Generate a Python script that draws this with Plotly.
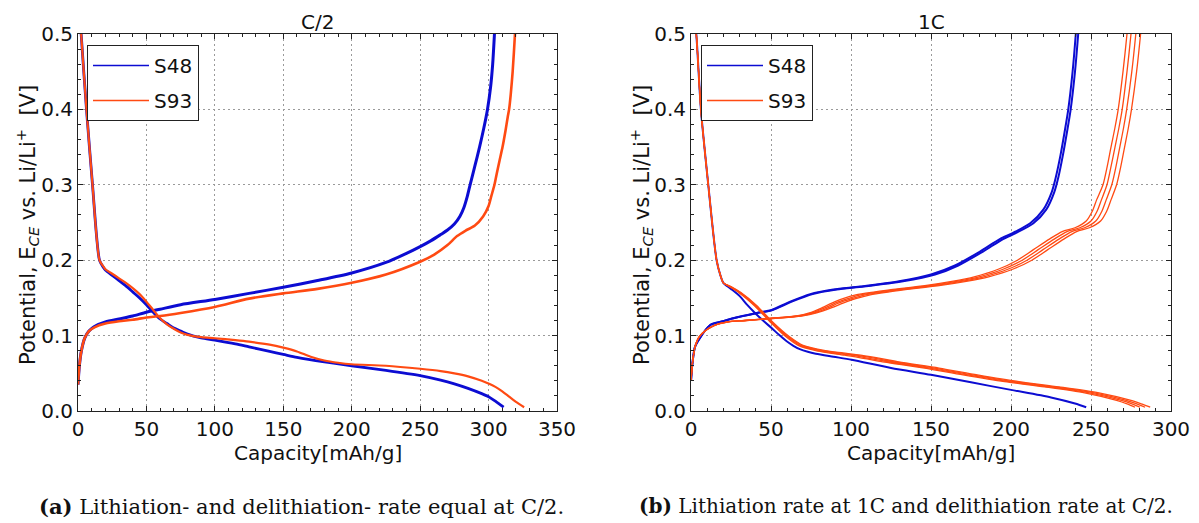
import plotly.graph_objects as go

# ---------------- Panel (a): C/2 ----------------
a_s48_lith_cap = [0, 2.3, 6.2, 10.6, 15.7, 18, 20, 25, 30, 35, 40, 45, 50, 55, 60, 65, 70, 75, 80, 90,
                  100, 115, 125, 140, 150, 160, 180, 200, 225, 250, 265, 275, 285, 295, 300, 305, 311]
a_s48_lith_pot = [0.57, 0.5, 0.4, 0.3, 0.2, 0.192, 0.187, 0.18, 0.173, 0.166, 0.158, 0.15, 0.141, 0.131, 0.122,
                  0.116, 0.11, 0.106, 0.102, 0.097, 0.094, 0.089, 0.085, 0.079, 0.075, 0.071, 0.065, 0.06, 0.054,
                  0.047, 0.041, 0.036, 0.03, 0.023, 0.019, 0.013, 0.005]

a_s93_lith_cap = [0, 2.3, 6.2, 10.6, 15.7, 18, 20, 25, 30, 35, 40, 45, 50, 55, 60, 65, 70, 75, 80, 90,
                  100, 115, 125, 140, 150, 160, 170, 180, 190, 200, 225, 250, 265, 275, 285, 295, 305, 310,
                  315, 320, 326]
a_s93_lith_pot = [0.57, 0.5, 0.4, 0.3, 0.2, 0.193, 0.188, 0.182, 0.176, 0.17, 0.163, 0.155, 0.145, 0.134, 0.123,
                  0.115, 0.109, 0.104, 0.101, 0.098, 0.0965, 0.094, 0.092, 0.088, 0.084, 0.079, 0.072, 0.067,
                  0.064, 0.062, 0.06, 0.056, 0.053, 0.05, 0.046, 0.04, 0.032, 0.026, 0.019, 0.012, 0.005]

a_s48_delith_cap = [0, 1, 2.5, 5, 8, 12, 20, 30, 40, 50, 60, 75, 100, 125, 150, 175, 200, 225, 240, 250,
                    258, 265, 270, 275, 279, 282, 284.5, 286.5, 290, 293.4, 296.5, 299.2, 301.5, 303,
                    304.3, 305.2]
a_s48_delith_pot = [0.035, 0.06, 0.08, 0.097, 0.106, 0.112, 0.118, 0.122, 0.126, 0.131, 0.135, 0.141, 0.148,
                    0.156, 0.164, 0.173, 0.183, 0.197, 0.209, 0.218, 0.226, 0.234, 0.24, 0.248, 0.258, 0.27,
                    0.285, 0.3, 0.325, 0.35, 0.375, 0.4, 0.43, 0.46, 0.5, 0.53]

a_s93_delith_cap = [0, 1, 2.5, 5, 8, 12, 20, 30, 40, 50, 60, 75, 100, 125, 150, 175, 200, 225, 250, 260,
                    270, 277, 283, 290, 296, 300, 302, 304.3, 306, 308, 310.2, 312.4, 314, 315, 316.2, 317.6,
                    319.3, 320.2]
a_s93_delith_pot = [0.035, 0.06, 0.08, 0.097, 0.106, 0.111, 0.116, 0.119, 0.121, 0.124, 0.126, 0.13, 0.138,
                    0.149, 0.156, 0.162, 0.17, 0.181, 0.198, 0.207, 0.22, 0.232, 0.239, 0.246, 0.258, 0.272,
                    0.285, 0.3, 0.315, 0.332, 0.35, 0.372, 0.39, 0.4, 0.42, 0.45, 0.5, 0.53]

# ---------------- Panel (b): 1C ----------------
b_s48_lith_cap = [0, 3.3, 6.2, 10.8, 16, 18.5, 20.2, 25, 30.6, 35, 40, 45, 50.4, 55, 59.8, 64, 68, 73, 78, 89,
                  100.4, 125, 150, 175, 200, 225, 240, 247]
b_s48_lith_pot = [0.57, 0.5, 0.4, 0.3, 0.2, 0.179, 0.17, 0.162, 0.152, 0.141, 0.13, 0.12, 0.11, 0.101, 0.0925,
                  0.0865, 0.082, 0.0785, 0.076, 0.072, 0.068, 0.057, 0.048, 0.038, 0.028, 0.018, 0.01, 0.005]

b_s93_lith_pot = [0.57, 0.5, 0.4, 0.3, 0.2, 0.179, 0.17, 0.165, 0.157, 0.14, 0.117, 0.099, 0.087, 0.08,
                  0.077, 0.074, 0.069, 0.065, 0.057, 0.048, 0.039, 0.032, 0.024, 0.014, 0.009, 0.005]
b_s93_lith_cap_c1 = [0, 3.3, 6.2, 10.8, 16, 18.5, 20.2, 24, 30, 39.5, 50, 59, 67, 78, 86, 96, 110, 121,
                     146, 170, 196, 221, 246, 266, 273, 277.5]
b_s93_lith_cap_c2 = [0, 3.3, 6.2, 10.8, 16, 18.5, 20.2, 24.3, 30.4, 40, 50.5, 59.8, 68, 80, 89, 100, 113,
                     124, 149, 173, 199, 224, 249, 269, 276, 280.6]
b_s93_lith_cap_c3 = [0, 3.3, 6.2, 10.8, 16, 18.5, 20.2, 24.6, 30.8, 40.5, 51, 60.5, 69, 82, 92, 103, 117,
                     127, 152, 176, 202, 227, 252, 272, 279, 283.8]
b_s93_lith_cap_c4 = [0, 3.3, 6.2, 10.8, 16, 18.5, 20.2, 25, 31.2, 41, 51.5, 61.2, 70, 84, 95, 106, 120,
                     130, 155, 179, 205, 230, 255, 275, 282, 287]

b_s48_delith_pot = [0.04, 0.065, 0.085, 0.097, 0.114, 0.119, 0.123, 0.13, 0.134, 0.145, 0.155, 0.161, 0.165,
                    0.172, 0.181, 0.193, 0.2115, 0.228, 0.236, 0.249, 0.267, 0.29, 0.31, 0.34, 0.37, 0.4,
                    0.45, 0.5, 0.53]
b_s48_delith_cap_c1 = [0, 1, 2.5, 5.6, 12, 20, 26.4, 41, 50.4, 62, 74.5, 89, 105.6, 130, 150, 165, 180.6,
                       193, 201, 212, 220.2, 225.4, 228, 231, 233.5, 235.8, 238.5, 240.5, 241.5]
b_s48_delith_cap_c2 = [0, 1, 2.5, 5.6, 12, 20, 26.6, 41.5, 51, 63, 76, 91, 108, 132.5, 152.5, 167, 182.5,
                       195, 203, 214, 222, 227, 229.6, 232.5, 235, 237.3, 240, 242, 243]

b_s93_delith_pot = [0.04, 0.065, 0.085, 0.098, 0.108, 0.114, 0.118, 0.12, 0.123, 0.126, 0.13, 0.137, 0.143,
                    0.149, 0.154, 0.158, 0.161, 0.166, 0.172, 0.178, 0.188, 0.2, 0.214, 0.228, 0.238, 0.243,
                    0.252, 0.265, 0.28, 0.3, 0.325, 0.35, 0.375, 0.4, 0.45, 0.5, 0.53]
b_s93_delith_cap_c1 = [0, 1, 2.5, 5, 10, 15, 22, 33, 50, 66, 74, 82, 88, 95, 103, 115, 125, 145, 163, 177,
                       192, 204, 214, 224, 232, 240, 247, 250.8, 253.5, 257.5, 260.2, 262.5, 264.9, 267, 270,
                       272.5, 273.8]
b_s93_delith_cap_c2 = [0, 1, 2.5, 5, 10, 15, 22, 33.5, 51, 67, 75.5, 84, 90, 98, 106, 118, 128, 148, 166,
                       180, 195, 207, 217, 227, 235, 243, 250, 253.8, 256.5, 260, 262.6, 265, 267.4, 269.5,
                       272.5, 275, 276.3]
b_s93_delith_cap_c3 = [0, 1, 2.5, 5, 10, 15, 22.5, 34, 52, 68, 77, 86, 92, 100.5, 109, 121, 131, 151, 169,
                       183, 198, 210, 220, 230, 238, 246, 253, 256.8, 259.5, 263, 265.7, 268, 270.3, 272.3,
                       275.5, 278, 279.3]
b_s93_delith_cap_c4 = [0, 1, 2.5, 5, 10, 15, 23, 35, 53, 69, 78.5, 88, 95, 103, 112, 124, 134, 154, 172,
                       186, 201, 213, 223, 233, 241, 249, 256, 259.8, 262.5, 266, 268.7, 271, 273.3, 275.3,
                       278.5, 281, 282.3]

panel_titles = ["C/2", "1C"]
x_title = "Capacity[mAh/g]"
y_title = "Potential, E<sub><i>CE</i></sub> vs. Li/Li<sup>+</sup>\u00a0 [V]"
captions = ["<b>(a)</b> Lithiation- and delithiation- rate equal at C/2.",
            "<b>(b)</b> Lithiation rate at 1C and delithiation rate at C/2."]
caption_sizes = [21, 20]
series_names = ["S48", "S93"]

BLUE = "#0c0cd2"
ORANGE = "#ff4a12"
SMOOTH = 0.75

fig = go.Figure()


def add(x, y, color, width, xa, ya):
    fig.add_trace(go.Scatter(
        x=x, y=y, mode="lines",
        line=dict(color=color, width=width, shape="spline", smoothing=SMOOTH),
        xaxis=xa, yaxis=ya, showlegend=False, hoverinfo="skip"))


def add_legend_entry(name, color, xa, ya, legend):
    fig.add_trace(go.Scatter(
        x=[None], y=[None], mode="lines", line=dict(color=color, width=1.6),
        xaxis=xa, yaxis=ya, name=name, legend=legend, legendgroup=legend + name,
        showlegend=True, hoverinfo="skip"))


# panel (a)
add(a_s48_lith_cap, a_s48_lith_pot, BLUE, 2.8, "x", "y")
add(a_s48_delith_cap, a_s48_delith_pot, BLUE, 3.0, "x", "y")
add(a_s93_lith_cap, a_s93_lith_pot, ORANGE, 2.2, "x", "y")
add(a_s93_delith_cap, a_s93_delith_pot, ORANGE, 2.6, "x", "y")

# panel (b)
add(b_s48_lith_cap, b_s48_lith_pot, BLUE, 2.0, "x2", "y2")
add(b_s48_delith_cap_c1, b_s48_delith_pot, BLUE, 2.0, "x2", "y2")
add(b_s48_delith_cap_c2, b_s48_delith_pot, BLUE, 2.0, "x2", "y2")
for cap in [b_s93_lith_cap_c1, b_s93_lith_cap_c2, b_s93_lith_cap_c3, b_s93_lith_cap_c4]:
    add(cap, b_s93_lith_pot, ORANGE, 1.3, "x2", "y2")
for cap in [b_s93_delith_cap_c1, b_s93_delith_cap_c2, b_s93_delith_cap_c3, b_s93_delith_cap_c4]:
    add(cap, b_s93_delith_pot, ORANGE, 1.3, "x2", "y2")

for leg, xa, ya in [("legend", "x", "y"), ("legend2", "x2", "y2")]:
    add_legend_entry(series_names[0], BLUE, xa, ya, leg)
    add_legend_entry(series_names[1], ORANGE, xa, ya, leg)

W, H = 1199, 523
L, R, T, B = 78, 28, 34, 112
PW, PH = W - L - R, H - T - B


def px(xp):
    return (xp - L) / PW


def py(yp):
    return (H - B - yp) / PH


FONT = "DejaVu Sans"
FS = 20
axcol = "#222222"

common = dict(showline=True, linecolor=axcol, linewidth=1, mirror="allticks",
              ticks="inside", ticklen=5, tickwidth=1, tickcolor=axcol,
              showgrid=True, gridcolor="#9a9a9a", griddash="2px,3px", gridwidth=1,
              zeroline=False, tickfont=dict(size=FS, family=FONT, color="#111111"))

xa1 = dict(common, domain=[0, px(557)], range=[0, 350], dtick=50, tick0=0, anchor="y",
           minor=dict(dtick=10, ticks="inside", ticklen=3, tickcolor=axcol, showgrid=False))
xa2 = dict(common, domain=[px(691), 1], range=[0, 300], dtick=50, tick0=0, anchor="y2",
           minor=dict(dtick=10, ticks="inside", ticklen=3, tickcolor=axcol, showgrid=False))
ya1 = dict(common, domain=[0, 1], range=[0, 0.5], dtick=0.1, tick0=0, tickformat=".1f", anchor="x",
           minor=dict(dtick=0.02, ticks="inside", ticklen=3, tickcolor=axcol, showgrid=False))
ya2 = dict(common, domain=[0, 1], range=[0, 0.5], dtick=0.1, tick0=0, tickformat=".1f", anchor="x2",
           minor=dict(dtick=0.02, ticks="inside", ticklen=3, tickcolor=axcol, showgrid=False))

annotations = []
centers = [(78 + 557) / 2, (691 + 1171) / 2]
ytitle_x = [27, 641]
cap_centers = [301, 906]
for i in range(2):
    annotations.append(dict(text=panel_titles[i], x=px(centers[i]), y=py(22), xref="paper", yref="paper",
                            showarrow=False, xanchor="center", yanchor="middle",
                            font=dict(size=FS, family=FONT, color="#111111")))
    annotations.append(dict(text=x_title, x=px(centers[i]), y=py(453), xref="paper", yref="paper",
                            showarrow=False, xanchor="center", yanchor="middle",
                            font=dict(size=FS, family=FONT, color="#111111")))
    annotations.append(dict(text=y_title, x=px(ytitle_x[i]), y=py(225), xref="paper", yref="paper",
                            showarrow=False, xanchor="center", yanchor="middle", textangle=-90,
                            font=dict(size=21, family=FONT, color="#111111")))
    annotations.append(dict(text=captions[i], x=px(cap_centers[i]), y=py(506), xref="paper", yref="paper",
                            showarrow=False, xanchor="center", yanchor="middle",
                            font=dict(size=caption_sizes[i], family="DejaVu Serif", color="#111111")))

leg_common = dict(xref="paper", yref="paper", xanchor="left", yanchor="top",
                  bordercolor="#222222", borderwidth=1, bgcolor="white",
                  font=dict(size=FS, family=FONT, color="#111111"), itemwidth=56,
                  tracegroupgap=6)

fig.update_layout(
    width=W, height=H, margin=dict(l=L, r=R, t=T, b=B, autoexpand=False),
    paper_bgcolor="white", plot_bgcolor="white",
    xaxis=xa1, yaxis=ya1, xaxis2=xa2, yaxis2=ya2,
    legend=dict(leg_common, x=px(87), y=py(45)),
    legend2=dict(leg_common, x=px(701), y=py(45)),
    annotations=annotations,
)

fig.write_html("out.html")
